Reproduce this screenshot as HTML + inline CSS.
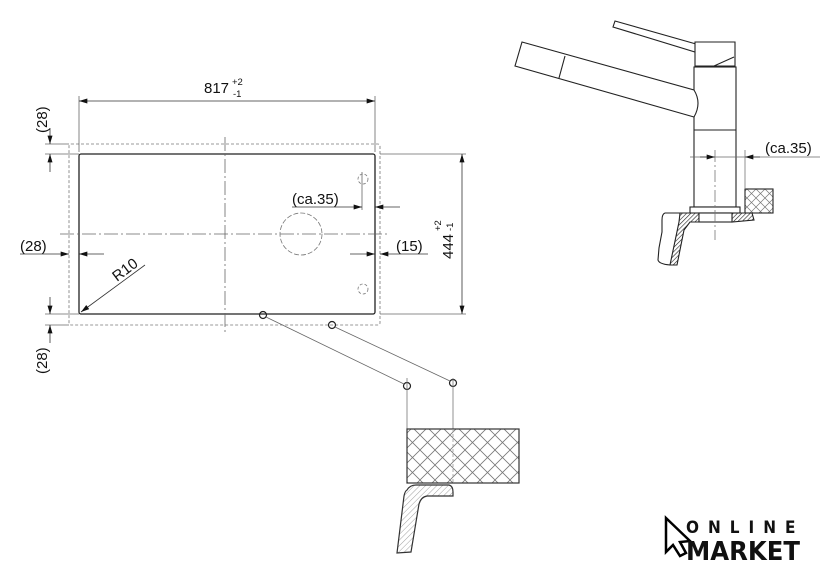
<!DOCTYPE html>
<html><head><meta charset="utf-8"><style>
html,body{margin:0;padding:0;background:#fff;width:840px;height:574px;overflow:hidden}
svg{display:block}
text{font-family:"Liberation Sans",sans-serif;fill:#111}
</style></head><body>
<svg width="840" height="574" viewBox="0 0 840 574" xmlns="http://www.w3.org/2000/svg">
<defs>
<pattern id="xh" width="15" height="15" patternUnits="userSpaceOnUse">
<path d="M0 0L15 15M15 0L0 15" stroke="#777" stroke-width="0.8"/>
</pattern>
<pattern id="xs" width="9" height="9" patternUnits="userSpaceOnUse">
<path d="M0 0L9 9M9 0L0 9" stroke="#777" stroke-width="0.7"/>
</pattern>
<pattern id="dh" width="4" height="4" patternUnits="userSpaceOnUse" patternTransform="rotate(45)">
<line x1="0" y1="0" x2="0" y2="4" stroke="#888" stroke-width="0.8"/>
</pattern>
<pattern id="dk" width="3" height="3" patternUnits="userSpaceOnUse" patternTransform="rotate(45)">
<line x1="0" y1="0" x2="0" y2="3" stroke="#222" stroke-width="1.2"/>
</pattern>
<marker id="a" viewBox="0 0 10 6" refX="10" refY="3" markerWidth="10" markerHeight="5" orient="auto-start-reverse" markerUnits="userSpaceOnUse"><path d="M0 0L10 3L0 6z" fill="#111"/></marker>
</defs>
<g stroke="#333" fill="none" stroke-width="0.8">
<rect x="69" y="144" width="311" height="181" rx="2" stroke-dasharray="3,2" stroke="#777"/>
<rect x="79" y="154" width="296" height="160" rx="2" stroke="#222" stroke-width="1.3"/>
<line x1="225" y1="137" x2="225" y2="333" stroke-dasharray="14,3,2,3" stroke="#666"/>
<line x1="60" y1="234" x2="388" y2="234" stroke-dasharray="14,3,2,3" stroke="#666"/>
<circle cx="301" cy="234" r="21" stroke-dasharray="5,2" stroke="#777"/>
<circle cx="363" cy="179" r="5" stroke-dasharray="3,2" stroke="#777"/>
<circle cx="363" cy="289" r="5" stroke-dasharray="3,2" stroke="#777"/>
<line x1="362" y1="172" x2="362" y2="210" stroke="#666"/>
<line x1="79" y1="96" x2="79" y2="152" stroke="#666"/>
<line x1="375" y1="96" x2="375" y2="152" stroke="#666"/>
<line x1="79" y1="101" x2="375" y2="101" marker-start="url(#a)" marker-end="url(#a)"/>
<line x1="380" y1="154" x2="466" y2="154" stroke="#666"/>
<line x1="380" y1="314" x2="466" y2="314" stroke="#666"/>
<line x1="462" y1="154" x2="462" y2="314" marker-start="url(#a)" marker-end="url(#a)"/>
<line x1="45" y1="144" x2="69" y2="144" stroke="#666"/>
<line x1="45" y1="154" x2="79" y2="154" stroke="#666"/>
<line x1="45" y1="314" x2="79" y2="314" stroke="#666"/>
<line x1="45" y1="325" x2="69" y2="325" stroke="#666"/>
<line x1="50" y1="128" x2="50" y2="144" marker-end="url(#a)"/>
<line x1="50" y1="172" x2="50" y2="154" marker-end="url(#a)"/>
<line x1="50" y1="297" x2="50" y2="314" marker-end="url(#a)"/>
<line x1="50" y1="343" x2="50" y2="325" marker-end="url(#a)"/>
<line x1="20" y1="254" x2="69" y2="254" marker-end="url(#a)"/>
<line x1="104" y1="254" x2="79" y2="254" marker-end="url(#a)"/>
<line x1="350" y1="254" x2="375" y2="254" marker-end="url(#a)"/>
<line x1="428" y1="254" x2="380" y2="254" marker-end="url(#a)"/>
<line x1="292" y1="207" x2="362" y2="207" marker-end="url(#a)"/>
<line x1="400" y1="207" x2="375" y2="207" marker-end="url(#a)"/>
<line x1="145" y1="265" x2="81" y2="312" marker-end="url(#a)"/>
<circle cx="263" cy="315" r="3.5" stroke="#222" stroke-width="1.2"/>
<circle cx="332" cy="325" r="3.5" stroke="#222" stroke-width="1.2"/>
<circle cx="407" cy="386" r="3.5" stroke="#222" stroke-width="1.2"/>
<circle cx="453" cy="383" r="3.5" stroke="#222" stroke-width="1.2"/>
<line x1="266" y1="317" x2="404" y2="384" stroke="#666"/>
<line x1="335" y1="327" x2="450" y2="381" stroke="#666"/>
<line x1="407" y1="378" x2="407" y2="429" stroke="#777"/>
<line x1="453" y1="378" x2="453" y2="429" stroke="#777"/>
<rect x="407" y="429" width="112" height="54" fill="url(#xh)" stroke="#333" stroke-width="1.2"/>
<line x1="453" y1="429" x2="453" y2="483" stroke-dasharray="3,2" stroke="#999"/>
<path d="M407 490 Q410 485 416 485 L449 485 Q453 486 453 492 L453 496 L427 496 Q421 497 419 504 L411 552 L397 553 L404 496 Q405 491 407 490Z" fill="url(#dh)" stroke="#333" stroke-width="1.2"/>
<g stroke="#222" stroke-width="1.1">
<path d="M615 21 L696 44 L695 52 L613 27 Z" fill="#fff"/>
<path d="M695 42 L735 42 L735 66 L695 66 Z" fill="#fff"/>
<path d="M696 66 L714 66 L734 57" />
<rect x="694" y="67" width="42" height="140" fill="#fff"/>
<line x1="694" y1="130" x2="736" y2="130"/>
<path d="M522 42 L694 90 Q702 103 694 117 L515 66 Z" fill="#fff"/>
<line x1="565" y1="56" x2="559" y2="78"/>
<rect x="690" y="207" width="50" height="6" fill="#fff"/>
<rect x="745" y="189" width="28" height="24" fill="url(#xs)"/>
<path d="M680 213 L699 213 L699 222 L690 222 L684 230 L677 265 L670 265 L679 222 Z" fill="url(#dk)"/>
<path d="M732 213 L752 213 L754 220 L732 222 Z" fill="url(#dk)"/>
<rect x="699" y="213" width="33" height="9" fill="#fff"/>
<path d="M680 213 L665 213 Q662 214 662 220 L662 232 L659 248 L658 260 Q659 264 670 265" fill="none"/>
</g>
<line x1="690" y1="157" x2="820" y2="157" stroke="#666"/>
<line x1="700" y1="157" x2="715" y2="157" marker-end="url(#a)"/>
<line x1="760" y1="157" x2="745" y2="157" marker-end="url(#a)"/>
<line x1="715" y1="150" x2="715" y2="240" stroke-dasharray="12,3,2,3" stroke="#777"/>
<line x1="745" y1="150" x2="745" y2="189" stroke="#777"/>
</g>
<text x="204" y="93" font-size="15">817</text>
<text x="232" y="85" font-size="9.5">+2</text>
<text x="233" y="97" font-size="9.5">-1</text>
<text transform="translate(453,259) rotate(-90)" font-size="15">444</text>
<text transform="translate(441,231) rotate(-90)" font-size="9.5">+2</text>
<text transform="translate(453,231) rotate(-90)" font-size="9.5">-1</text>
<text transform="translate(47,133) rotate(-90)" font-size="15">(28)</text>
<text transform="translate(47,374) rotate(-90)" font-size="15">(28)</text>
<text x="20" y="251" font-size="15">(28)</text>
<text x="396" y="251" font-size="15">(15)</text>
<text x="292" y="204" font-size="15">(ca.35)</text>
<text transform="translate(117,282) rotate(-37)" font-size="15">R10</text>
<text x="765" y="153" font-size="15">(ca.35)</text>
<path d="M666 518 L666 552 L673 545 L680 556 L686 553 L680 542 L690 541 Z" fill="#fff" stroke="#000" stroke-width="2.5"/>
<text x="686" y="533" font-size="17" font-weight="bold" letter-spacing="9" style="font-family:'DejaVu Sans Condensed','DejaVu Sans',sans-serif">ONLINE</text>
<text x="686" y="560" font-size="26" font-weight="bold" textLength="114" lengthAdjust="spacingAndGlyphs" style="font-family:'DejaVu Sans Condensed','DejaVu Sans',sans-serif">MARKET</text>
</svg>
</body></html>
